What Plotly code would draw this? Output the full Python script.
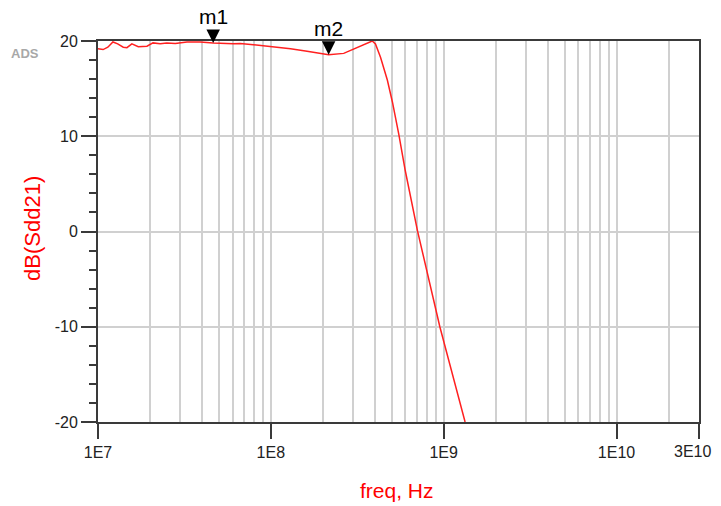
import plotly.graph_objects as go
import numpy as np

# ---- data ----
freq_hz = [1.00e7, 1.07e7, 1.14e7, 1.22e7, 1.30e7, 1.40e7, 1.47e7, 1.57e7, 1.71e7,
           1.92e7, 2.08e7, 2.29e7, 2.50e7, 2.80e7, 3.27e7, 3.90e7, 4.64e7, 6.06e7,
           6.65e7, 8.69e7, 1.03e8, 1.30e8, 1.62e8, 2.16e8, 2.64e8, 3.16e8, 3.86e8,
           4.03e8, 4.31e8, 4.72e8, 5.05e8, 5.50e8, 6.00e8, 7.05e8, 9.50e8, 1.33e9]
sdd21_db = [19.2, 19.1, 19.35, 19.9, 19.7, 19.35, 19.3, 19.7, 19.4,
            19.45, 19.8, 19.7, 19.8, 19.75, 19.9, 19.9, 19.8, 19.7,
            19.75, 19.53, 19.42, 19.18, 18.93, 18.55, 18.7, 19.35, 20.0,
            19.7, 18.3, 15.9, 13.6, 10.2, 6.35, 0.1, -10.0, -20.0]

marker_names = ["m1", "m2"]
marker_freq = [4.64e7, 2.16e8]
marker_db = [19.8, 18.55]

x_tick_vals = [1e7, 1e8, 1e9, 1e10, 3e10]
x_tick_text = ["1E7", "1E8", "1E9", "1E10", "3E10"]
y_tick_vals = [-20, -10, 0, 10, 20]
y_tick_text = ["-20", "-10", "0", "10", "20"]

# ---- layout constants (page body has an 8px margin) ----
W, H = 705, 498
L, R, T, B = 90, 14, 33, 84

minor_x = [m * 10 ** d for d in range(7, 11) for m in range(2, 10) if m * 10 ** d < 3e10]

axis_col = "#3a3a3a"
grid_col = "#d0d0d0"
font_fam = "Liberation Sans, Arial, sans-serif"
tick_font = dict(size=16, color="#222222", family=font_fam)

fig = go.Figure()
fig.add_trace(go.Scatter(
    x=freq_hz, y=sdd21_db, mode="lines",
    line=dict(color="#ff2020", width=1.5),
    showlegend=False, hoverinfo="skip"))

for name, f, v in zip(marker_names, marker_freq, marker_db):
    fig.add_annotation(x=np.log10(f), y=v, text=name, showarrow=True,
                       ax=0, ay=-26, arrowhead=2, arrowsize=2.7, arrowwidth=1,
                       arrowcolor="black", startstandoff=3,
                       font=dict(size=21, color="black", family=font_fam))

# last x tick label sits at the right page edge; place it as an annotation
shown_x_text = x_tick_text[:-1] + [""]
fig.add_annotation(xref="paper", yref="paper", x=1.0, y=-0.077,
                   text=x_tick_text[-1], showarrow=False,
                   xanchor="right", yanchor="middle", xshift=14,
                   font=tick_font)

fig.update_xaxes(
    type="log", range=[7, np.log10(3e10)],
    tickvals=x_tick_vals, ticktext=shown_x_text,
    ticks="outside", ticklen=15, tickwidth=2, tickcolor=axis_col,
    showgrid=True, gridcolor=grid_col, gridwidth=1.5,
    minor=dict(tickvals=minor_x, showgrid=True, gridcolor=grid_col,
               gridwidth=1.5, ticks=""),
    showline=True, linecolor=axis_col, linewidth=2, mirror=True,
    tickfont=tick_font, zeroline=False)

fig.update_yaxes(
    range=[-20, 20], tickvals=y_tick_vals, ticktext=y_tick_text,
    ticks="outside", ticklen=15, tickwidth=2, tickcolor=axis_col,
    showgrid=True, gridcolor=grid_col, gridwidth=1.5,
    minor=dict(dtick=2, ticks="outside", ticklen=7, tickwidth=2,
               tickcolor=axis_col, showgrid=False),
    showline=True, linecolor=axis_col, linewidth=2, mirror=True,
    tickfont=tick_font, zeroline=False)

fig.add_annotation(xref="paper", yref="paper", x=0.497, y=-0.181,
                   text="freq, Hz", showarrow=False, xanchor="center", yanchor="middle",
                   font=dict(size=21, color="#ff0000", family=font_fam))
fig.add_annotation(xref="paper", yref="paper", x=-0.110, y=0.509,
                   text="dB(Sdd21)", showarrow=False, textangle=-90,
                   xanchor="center", yanchor="middle",
                   font=dict(size=22, color="#ff0000", family=font_fam))
fig.add_annotation(xref="paper", yref="paper", x=-0.122, y=0.9685,
                   text="<b>ADS</b>", showarrow=False, xanchor="center", yanchor="middle",
                   font=dict(size=13, color="#a8a8a8", family=font_fam))

fig.update_layout(
    width=W, height=H, margin=dict(l=L, r=R, t=T, b=B, pad=0),
    paper_bgcolor="white", plot_bgcolor="white",
    font=dict(family=font_fam))

fig.write_html("out.html")
